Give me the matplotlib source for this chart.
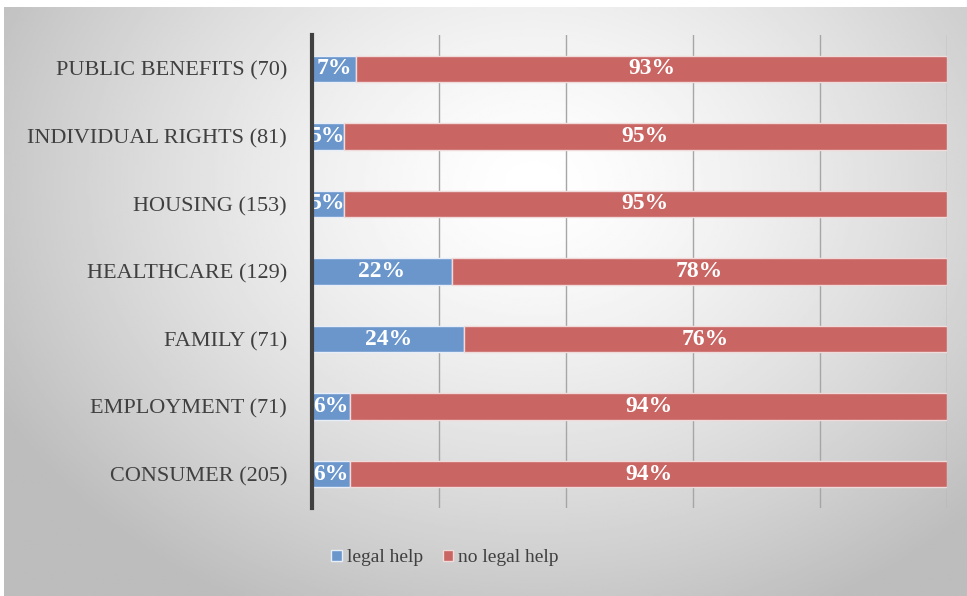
import numpy as np
import matplotlib.pyplot as plt

# data, bottom to top as drawn
categories = ['CONSUMER (205)', 'EMPLOYMENT (71)', 'FAMILY (71)', 'HEALTHCARE (129)',
              'HOUSING (153)', 'INDIVIDUAL RIGHTS (81)', 'PUBLIC BENEFITS (70)']
legal_help = [6, 6, 24, 22, 5, 5, 7]
no_legal_help = [94, 94, 76, 78, 95, 95, 93]

blue = '#6a96cc'
red = '#c96563'
font = 'Liberation Serif'

fig = plt.figure(figsize=(9.67, 5.96), dpi=100)

# gradient panel behind the chart
bg = fig.add_axes([4/967, 0, 1 - 4/967, 1 - 7/596], zorder=0)
xx, yy = np.meshgrid(np.linspace(0, 1, 400), np.linspace(0, 1, 300))
r = np.sqrt(((xx - 0.55) / 0.7) ** 2 + ((yy - 0.3) / 0.9) ** 2)
shade = np.clip(1 - 0.3 * r ** 1.4, 0.74, 1.0)
bg.imshow(shade, cmap='gray', vmin=0, vmax=1, extent=[0, 1, 0, 1], aspect='auto', origin='upper')
bg.set_axis_off()

ax = fig.add_axes([312/967, 88/596, 635/967, 473/596], zorder=1)
ax.patch.set_alpha(0)
y = np.arange(len(categories))
b1 = ax.barh(y, legal_help, height=0.39, color=blue, edgecolor='#e8eef7', linewidth=1, label='legal help')
b2 = ax.barh(y, no_legal_help, left=legal_help, height=0.39, color=red, edgecolor='#f0dada',
             linewidth=1, label='no legal help')

for rect, v in zip(b1, legal_help):
    ax.text(rect.get_x() + rect.get_width() / 2, rect.get_y() + rect.get_height() / 2, f'{v}%',
            ha='center', va='center', color='white', fontsize=17, fontweight='bold', family=font)
for rect, v in zip(b2, no_legal_help):
    ax.text(rect.get_x() + rect.get_width() / 2, rect.get_y() + rect.get_height() / 2, f'{v}%',
            ha='center', va='center', color='white', fontsize=17, fontweight='bold', family=font)

ax.set_xlim(0, 100)
ax.set_ylim(-0.5, len(categories) - 0.5)
ax.set_xticks([0, 20, 40, 60, 80, 100])
ax.set_xticklabels([])
ax.tick_params(axis='x', length=0)
ax.grid(axis='x', color='#a6a6a6', linewidth=1)
ax.set_axisbelow(True)
ax.set_yticks(y)
ax.set_yticklabels(categories, family=font, fontsize=16, color='#404040')
ax.tick_params(axis='y', length=0, pad=18)
for s in ['top', 'right', 'bottom']:
    ax.spines[s].set_visible(False)
ax.spines['left'].set_color('#404040')
ax.spines['left'].set_linewidth(3)
ax.spines['left'].set_zorder(5)

fig.legend(handles=[b1, b2], loc='center', bbox_to_anchor=(445/967, 1 - 558/596), ncol=2,
           frameon=False, prop={'family': font, 'size': 14}, handlelength=0.55, handleheight=0.55,
           handletextpad=0.25, columnspacing=1.0, labelcolor='#404040')

fig.savefig('out.png', dpi=100)
